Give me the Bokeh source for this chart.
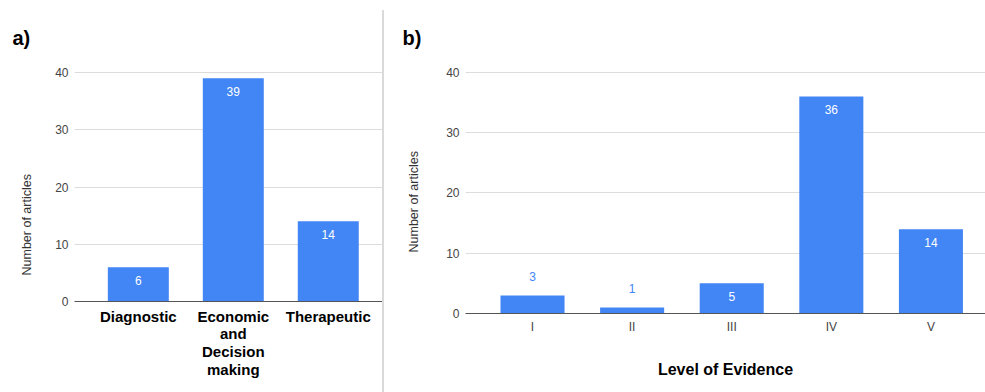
from bokeh.plotting import figure
from bokeh.models import Range1d, FixedTicker, Title, Div, ColumnDataSource
from bokeh.layouts import row
from bokeh.core.properties import value
from bokeh.embed import file_html
from bokeh.resources import INLINE

# ---- data ----
types = ["Diagnostic", "Economic\nand\nDecision\nmaking", "Therapeutic"]
type_counts = [6, 39, 14]

levels = ["I", "II", "III", "IV", "V"]
level_counts = [3, 1, 5, 36, 14]

y_ticks = [0, 10, 20, 30, 40]

BLUE = "#4285f4"
FONT = "Liberation Sans"


def base_fig(width, x_start, x_end, y_end, border_left, border_bottom):
    p = figure(width=width, height=392, x_range=Range1d(x_start, x_end),
               y_range=Range1d(0, y_end), output_backend="svg",
               toolbar_location=None, min_border_left=border_left,
               min_border_right=0, min_border_top=60,
               min_border_bottom=border_bottom)
    p.frame_align = False
    p.outline_line_color = None
    p.background_fill_color = "white"
    p.border_fill_color = "white"
    p.xgrid.visible = False
    p.ygrid.ticker = FixedTicker(ticks=y_ticks)
    p.ygrid.grid_line_color = "#dcdcdc"
    p.yaxis.ticker = FixedTicker(ticks=y_ticks)
    p.yaxis.axis_line_color = None
    p.yaxis.major_tick_line_color = None
    p.yaxis.minor_tick_line_color = None
    p.yaxis.major_tick_out = 0
    p.yaxis.major_label_standoff = 6
    p.yaxis.major_label_text_font = FONT
    p.yaxis.major_label_text_font_size = "12px"
    p.yaxis.major_label_text_color = "#444444"
    p.xaxis.axis_line_color = "#555555"
    p.xaxis.major_tick_line_color = None
    p.xaxis.minor_tick_line_color = None
    p.xaxis.major_tick_out = 0
    return p


def add_titles(p, letter, letter_offset, ytitle_offset, ytitle_standoff):
    p.add_layout(Title(text=letter, align="left", offset=letter_offset,
                       text_font=FONT, text_font_style="bold",
                       text_font_size="20px", text_color="black",
                       standoff=23), "above")
    p.add_layout(Title(text="Number of articles", align="left",
                       vertical_align="top",
                       offset=ytitle_offset, text_font=FONT,
                       text_font_style="normal", text_font_size="12.5px",
                       text_color="#333333", standoff=ytitle_standoff), "left")


def add_bars(p, counts, width, thresh):
    xs = list(range(len(counts)))
    p.vbar(x=xs, top=counts, width=width, color=BLUE, line_color=None)
    inside = ColumnDataSource(dict(
        x=[x for x, c in zip(xs, counts) if c >= thresh],
        y=[c for c in counts if c >= thresh],
        t=[str(c) for c in counts if c >= thresh]))
    above = ColumnDataSource(dict(
        x=[x for x, c in zip(xs, counts) if c < thresh],
        y=[c for c in counts if c < thresh],
        t=[str(c) for c in counts if c < thresh]))
    p.text(x="x", y="y", text="t", source=inside, text_align="center",
           text_baseline="middle", y_offset=13, text_color="white",
           text_font=value(FONT), text_font_size="12px")
    p.text(x="x", y="y", text="t", source=above, text_align="center",
           text_baseline="middle", y_offset=-19, text_color=BLUE,
           text_font=value(FONT), text_font_size="12px")


# ---- panel a ----
p1 = base_fig(382, -0.672, 2.571, 42.1, 74, 91)
add_bars(p1, type_counts, 0.642, 5)
p1.xaxis.ticker = FixedTicker(ticks=list(range(len(types))))
p1.xaxis.major_label_overrides = {i: t for i, t in enumerate(types)}
p1.xaxis.major_label_text_font = FONT
p1.xaxis.major_label_text_font_style = "bold"
p1.xaxis.major_label_text_font_size = "15px"
p1.xaxis.major_label_text_line_height = 1.05
p1.xaxis.major_label_text_color = "black"
p1.xaxis.major_label_standoff = 6
add_titles(p1, "a)", -62, 26, 34)

# ---- panel b ----
p2 = base_fig(601, -0.673, 4.548, 41.99, 81, 79)
add_bars(p2, level_counts, 0.643, 5)
p2.xaxis.ticker = FixedTicker(ticks=list(range(len(levels))))
p2.xaxis.major_label_overrides = {i: t for i, t in enumerate(levels)}
p2.xaxis.major_label_text_font = FONT
p2.xaxis.major_label_text_font_size = "12px"
p2.xaxis.major_label_text_color = "#444444"
p2.xaxis.major_label_standoff = 6
p2.xaxis.axis_label = "Level of Evidence"
p2.xaxis.axis_label_text_font = FONT
p2.xaxis.axis_label_text_font_style = "bold"
p2.xaxis.axis_label_text_font_size = "16px"
p2.xaxis.axis_label_text_color = "black"
p2.xaxis.axis_label_standoff = 24
add_titles(p2, "b)", -63, 61, 41)

sep = Div(text="", width=2, height=382, margin=(10, 0, 0, 0),
          styles={"background-color": "#dadada"})

layout = row(p1, sep, p2)
open("out.html", "w").write(file_html(layout, INLINE))
